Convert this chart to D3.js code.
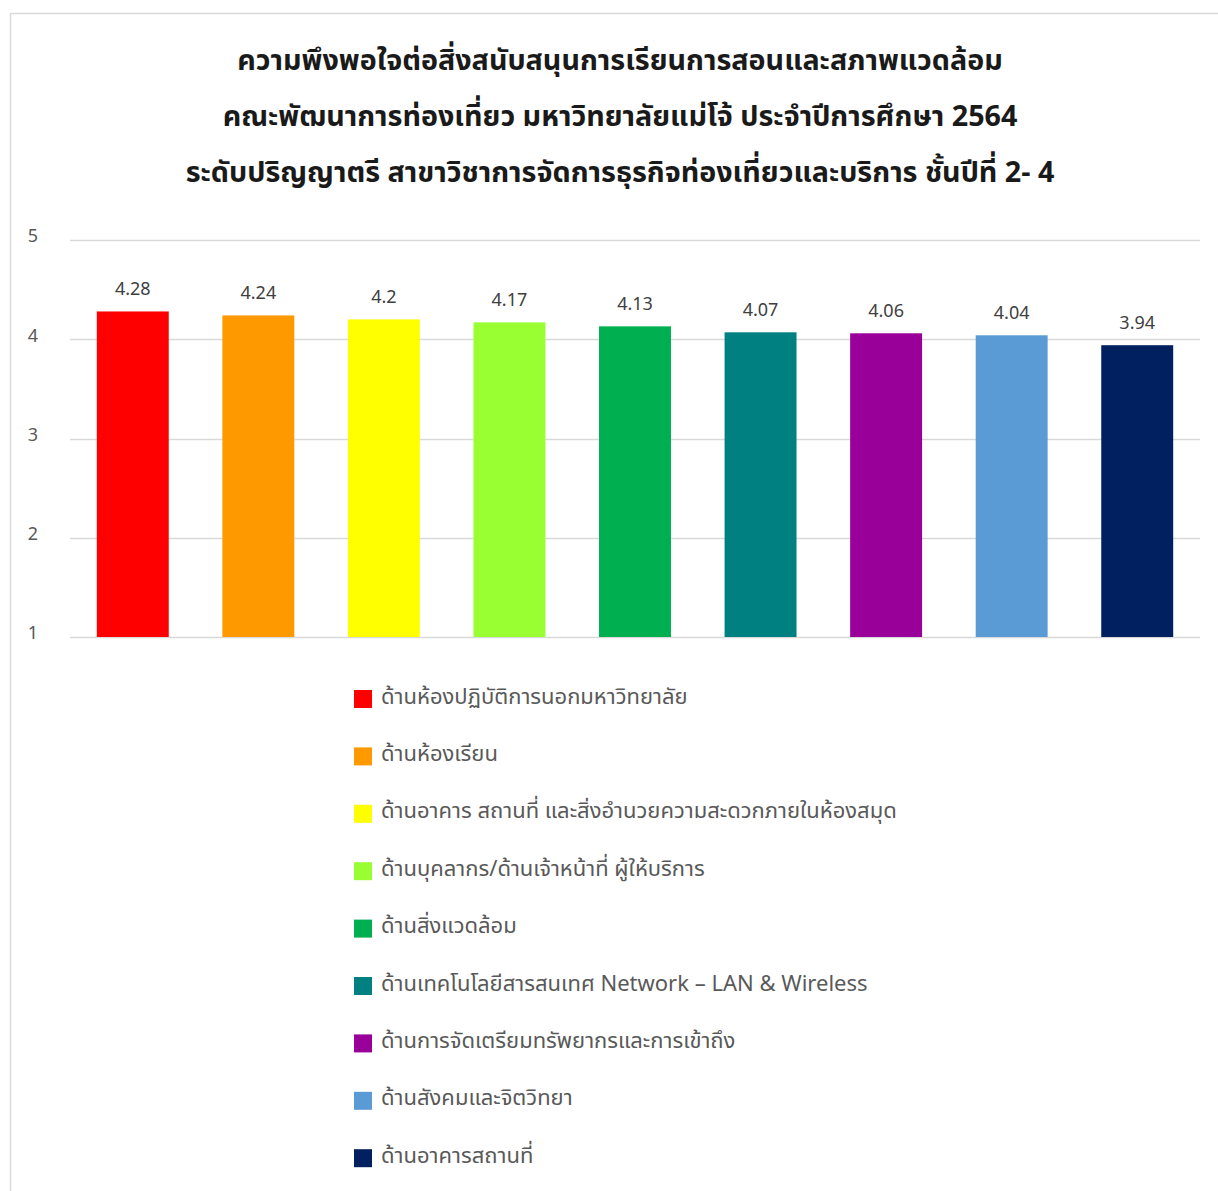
<!DOCTYPE html>
<html>
<head>
<meta charset="utf-8">
<script src="https://cdn.jsdelivr.net/npm/d3@7"></script>
<style>
  html, body { margin: 0; padding: 0; background: #fff; }
  svg { display: block; }
  text { font-family: "Noto Sans Thai", "Tahoma", "Noto Sans", "DejaVu Sans", sans-serif; }
</style>
</head>
<body>
<svg id="chart" width="1218" height="1191"></svg>
<script>
const titleLines = [
  "ความพึงพอใจต่อสิ่งสนับสนุนการเรียนการสอนและสภาพแวดล้อม",
  "คณะพัฒนาการท่องเที่ยว มหาวิทยาลัยแม่โจ้ ประจำปีการศึกษา 2564",
  "ระดับปริญญาตรี สาขาวิชาการจัดการธุรกิจท่องเที่ยวและบริการ ชั้นปีที่ 2- 4"
];
const categories = [
  "ด้านห้องปฏิบัติการนอกมหาวิทยาลัย",
  "ด้านห้องเรียน",
  "ด้านอาคาร สถานที่ และสิ่งอำนวยความสะดวกภายในห้องสมุด",
  "ด้านบุคลากร/ด้านเจ้าหน้าที่ ผู้ให้บริการ",
  "ด้านสิ่งแวดล้อม",
  "ด้านเทคโนโลยีสารสนเทศ Network – LAN & Wireless",
  "ด้านการจัดเตรียมทรัพยากรและการเข้าถึง",
  "ด้านสังคมและจิตวิทยา",
  "ด้านอาคารสถานที่"
];
const values = [4.28, 4.24, 4.2, 4.17, 4.13, 4.07, 4.06, 4.04, 3.94];
const valueLabels = ["4.28", "4.24", "4.2", "4.17", "4.13", "4.07", "4.06", "4.04", "3.94"];
const colors = ["#ff0000", "#ff9900", "#ffff00", "#99ff33", "#00b050", "#008080", "#990099", "#5b9bd5", "#002060"];
const yTicks = [1, 2, 3, 4, 5];

const svg = d3.select("#chart");

// outer border
svg.append("rect")
  .attr("x", 10.5).attr("y", 13.5)
  .attr("width", 1230).attr("height", 1200)
  .attr("fill", "#fff").attr("stroke", "#d9d9d9").attr("stroke-width", 1.5);

// title
const title = svg.append("g");
title.selectAll("text").data(titleLines).join("text")
  .attr("x", 620)
  .attr("y", (d, i) => 61 + i * 56)
  .attr("text-anchor", "middle")
  .attr("dominant-baseline", "central")
  .attr("font-size", 28.7)
  .attr("font-weight", "bold")
  .attr("fill", "#1a1a1a")
  .text(d => d);

const plot = { left: 70, right: 1200, top: 240, bottom: 637 };

const x = d3.scaleBand()
  .domain(d3.range(categories.length))
  .range([plot.left, plot.right])
  .paddingInner(0.427)
  .paddingOuter(0.2135);

const y = d3.scaleLinear()
  .domain([1, 5])
  .range([plot.bottom, plot.top]);

// gridlines
svg.append("g").selectAll("line").data(yTicks).join("line")
  .attr("x1", plot.left).attr("x2", plot.right)
  .attr("y1", d => Math.round(y(d)) + 0.5).attr("y2", d => Math.round(y(d)) + 0.5)
  .attr("stroke", "#d9d9d9").attr("stroke-width", 1.5);

// y axis labels
const yAxis = d3.axisLeft(y).tickValues(yTicks).tickSize(0).tickPadding(0).tickFormat(d3.format("d"));
const ya = svg.append("g").attr("transform", `translate(${plot.left - 30},0)`).call(yAxis);
ya.select(".domain").remove();
ya.selectAll("text")
  .attr("text-anchor", "middle")
  .attr("x", -7)
  .attr("dy", "0.1em")
  .attr("font-size", 18)
  .attr("fill", "#595959")
  .style("font-family", '"Noto Sans Thai", Tahoma, "Noto Sans", "DejaVu Sans", sans-serif');

// bars
svg.append("g").selectAll("rect").data(values).join("rect")
  .attr("x", (d, i) => x(i))
  .attr("width", x.bandwidth())
  .attr("y", d => y(d))
  .attr("height", d => y(1) - y(d))
  .attr("fill", (d, i) => colors[i]);

// data labels
svg.append("g").selectAll("text").data(values).join("text")
  .attr("x", (d, i) => x(i) + x.bandwidth() / 2)
  .attr("y", d => y(d) - 22)
  .attr("text-anchor", "middle")
  .attr("dominant-baseline", "central")
  .attr("font-size", 18)
  .attr("fill", "#404040")
  .text((d, i) => valueLabels[i]);

// legend
const legend = svg.append("g");
const items = legend.selectAll("g").data(categories).join("g")
  .attr("transform", (d, i) => `translate(354, ${698 + i * 57.4})`);
items.append("rect")
  .attr("x", 0).attr("y", -8)
  .attr("width", 18).attr("height", 18)
  .attr("fill", (d, i) => colors[i]);
items.append("text")
  .attr("x", 27).attr("y", -1)
  .attr("dominant-baseline", "central")
  .attr("font-size", 22)
  .attr("fill", "#595959")
  .text(d => d);
</script>
</body>
</html>
